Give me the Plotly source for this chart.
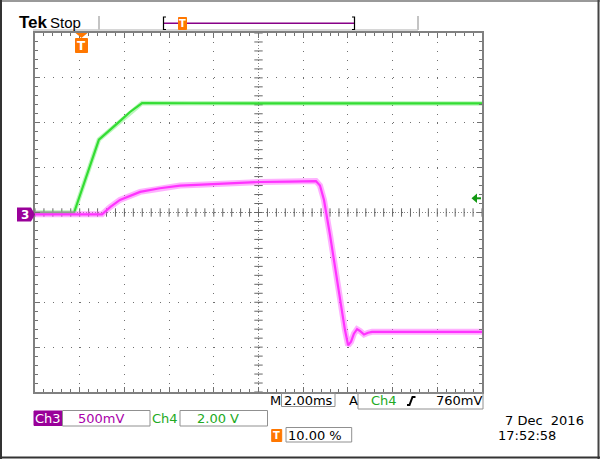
import numpy as np
import plotly.graph_objects as go

# ---------------- data (time in ms, voltage in V) ----------------
ch4_t = [-2.0, -0.25, 0.86, 1.36, 1.80, 2.25, 2.79, 5.0, 10.0, 18.0]
ch4_v = [0.0, 0.0, 3.25, 3.67, 4.07, 4.48, 4.88, 4.87, 4.87, 4.86]

ch3_t = [-2.0, 1.0, 1.36, 1.80, 2.70, 3.59, 4.49, 5.38, 6.73, 8.07, 9.41, 10.57,
         10.75, 10.93, 11.20, 11.47, 11.69, 11.87, 12.01, 12.14, 12.27, 12.41,
         12.54, 12.72, 12.90, 13.08, 18.0]
ch3_v = [-0.02, -0.02, 0.06, 0.14, 0.23, 0.27, 0.30, 0.31, 0.33, 0.34, 0.345, 0.35,
         0.30, 0.14, -0.25, -0.70, -1.03, -1.31, -1.48, -1.44, -1.35, -1.30,
         -1.32, -1.36, -1.34, -1.33, -1.33]

ch3_vdiv = 0.5      # V/div
ch4_vdiv = 2.0      # V/div
t_div = 2.0         # ms/div
trig_pct = 10.0     # trigger position %
n_xdiv, n_ydiv = 10, 8

ch3_label = "Ch3"
ch3_scale_text = "500mV"
ch4_label = "Ch4"
ch4_scale_text = "2.00 V"
timebase_text = "2.00ms"
trig_src_text = "Ch4"
trig_level_text = "760mV"
trig_pos_text = "10.00 %"
date_text = "7 Dec\u00a0 2016"
time_text = "17:52:58"

# ---------------- geometry ----------------
L, T, R, B = 35, 33, 482, 392
W, H = R - L, B - T
def px(x):
    return (x - L) / W
def py(y):
    return (B - y) / H

t0 = -trig_pct / 100 * n_xdiv * t_div
t1 = t0 + n_xdiv * t_div
tc = (t0 + t1) / 2

GREEN = "#33dd33"
PINK = "#ff33ff"
PURPLE = "#990099"
TXTGREEN = "#22aa22"
ORANGE = "#ff7700"
GRID = "#707070"
FONT = "DejaVu Sans"

fig = go.Figure()

# center graticule tick marks
fig.add_trace(go.Scatter(
    x=np.arange(t0, t1 + 1e-9, t_div / 5), y=np.zeros(51), mode="markers",
    marker=dict(symbol="line-ns", size=6, line=dict(width=1, color="#666666")),
    hoverinfo="skip", showlegend=False))
fig.add_trace(go.Scatter(
    x=np.full(41, tc), y=np.arange(-4, 4 + 1e-9, 0.2), mode="markers",
    marker=dict(symbol="line-ew", size=6, line=dict(width=1, color="#666666")),
    hoverinfo="skip", showlegend=False))

# traces
for tt, vv, vdiv, fuzz, fw, col in [
    (ch4_t, ch4_v, ch4_vdiv, "rgba(60,230,60,0.35)", 4.5, GREEN),
    (ch3_t, ch3_v, ch3_vdiv, "rgba(255,80,255,0.45)", 6, PINK),
]:
    yy = np.array(vv) / vdiv
    fig.add_trace(go.Scatter(x=tt, y=yy, mode="lines",
                             line=dict(color=fuzz, width=fw),
                             hoverinfo="skip", showlegend=False))
    fig.add_trace(go.Scatter(x=tt, y=yy, mode="lines",
                             line=dict(color=col, width=2.2),
                             hoverinfo="skip", showlegend=False))

shapes = []
ann = []

def line(x0, y0, x1, y1, color, width=1, dash=None, layer="above"):
    d = dict(type="line", xref="paper", yref="paper",
             x0=px(x0), y0=py(y0), x1=px(x1), y1=py(y1),
             line=dict(color=color, width=width), layer=layer)
    if dash:
        d["line"]["dash"] = dash
    shapes.append(d)

def rect(x0, y0, x1, y1, fill=None, lc="#909090", lw=1):
    shapes.append(dict(type="rect", xref="paper", yref="paper",
                       x0=px(x0), y0=py(y0), x1=px(x1), y1=py(y1),
                       fillcolor=fill if fill else "rgba(0,0,0,0)",
                       line=dict(color=lc, width=lw), layer="above"))

def path(pts, fill=None, lc=None, lw=1, close=True):
    s = "M " + " L ".join(f"{px(x):.5f},{py(y):.5f}" for x, y in pts)
    if close:
        s += " Z"
    shapes.append(dict(type="path", xref="paper", yref="paper", path=s,
                       fillcolor=fill if fill else "rgba(0,0,0,0)",
                       line=dict(color=lc if lc else "rgba(0,0,0,0)", width=lw),
                       layer="above"))

def text(x, y, s, color="black", size=13, xanchor="center", bold=False,
         family=FONT):
    ann.append(dict(xref="paper", yref="paper", x=px(x), y=py(y),
                    text=f"<b>{s}</b>" if bold else s, showarrow=False,
                    xanchor=xanchor, yanchor="middle",
                    font=dict(color=color, size=size, family=family)))

# center lines (denser dots)
line(L, (T + B) / 2, R, (T + B) / 2, "#888888", 1, "1px,2px", "below")
line((L + R) / 2, T, (L + R) / 2, B, "#888888", 1, "1px,2px", "below")

# outer picture border
line(0, 1, 600, 1, "#999999", 2)
line(1, 0, 1, 459, "#333333", 2)
line(598.5, 0, 598.5, 459, "#444444", 2)
line(0, 457.5, 600, 457.5, "#333333", 2)

# ---------------- top bar ----------------
text(16.5, 23, "Tek", size=17, xanchor="left", bold=True, family="Liberation Sans")
text(47.5, 23, "Stop", size=15, xanchor="left", family="Liberation Sans")
line(99, 16, 99, 30, "#b0b0b0", 1.5)
line(418, 16, 418, 30, "#b0b0b0", 1.5)
line(33, 30, 418, 30, "#c8c8c8", 1.5)
# record bracket
line(164, 23.3, 354, 23.3, "#880088", 1.5)
path([(166, 17), (163.5, 17), (163.5, 29.5), (166, 29.5)], lc="black", lw=1.2, close=False)
path([(352, 17), (354.5, 17), (354.5, 29.5), (352, 29.5)], lc="black", lw=1.2, close=False)
rect(178.5, 17.5, 186.5, 29.5, fill=ORANGE, lc=ORANGE)
text(182.5, 23.8, "T", color="white", size=10, bold=True)

# trigger position marker in graticule
path([(75.5, 33), (87.5, 33), (81.5, 38)], fill=ORANGE)
rect(75.5, 38.5, 87.5, 52.5, fill=ORANGE, lc=ORANGE)
text(81.5, 45.7, "T", color="white", size=12, bold=True)

# ch3 ground marker
path([(17, 207.5), (31, 207.5), (35, 214.5), (31, 221.5), (17, 221.5)], fill=PURPLE)
text(24.5, 214.5, "3", color="white", size=12, bold=True)

# trigger level arrow (right)
path([(471.5, 198.3), (477, 193.5), (477, 203)], fill="#119911")
line(476, 198.3, 481, 198.3, "#119911", 2)

# ---------------- bottom readouts ----------------
text(275, 400, "M", size=13)
rect(281.5, 393, 335, 406.5)
text(308.5, 400, timebase_text, size=13)
text(353, 400, "A", size=13)
rect(358, 393, 483, 409)
text(383.5, 400.5, trig_src_text, color=TXTGREEN, size=13)
path([(407, 405), (409.5, 405), (412.5, 397), (415.5, 397)], lc="black", lw=2, close=False)
text(458.5, 400.5, trig_level_text, size=13)

rect(34, 411, 62, 425.5, fill=PURPLE, lc=PURPLE)
text(48, 418.3, ch3_label, color="white", size=13)
rect(62.5, 410.5, 150, 426)
text(101, 418.3, ch3_scale_text, color="#aa00aa", size=13)
text(165, 418.3, ch4_label, color=TXTGREEN, size=13)
rect(180, 410.5, 267.5, 426)
text(218, 418.3, ch4_scale_text, color=TXTGREEN, size=13)

rect(271.7, 429.5, 281.7, 441.5, fill=ORANGE, lc=ORANGE)
text(276.7, 435.6, "T", color="white", size=10, bold=True)
rect(286, 427.5, 351.7, 442)
text(315, 435, trig_pos_text, size=13)

text(544.5, 420.5, date_text, size=13)
text(526.5, 435.5, time_text, size=13)

# ---------------- axes ----------------
axis_common = dict(showline=True, linecolor="#808080", linewidth=2, mirror="ticks",
                   ticks="inside", ticklen=5, tickcolor="#707070", tickwidth=1,
                   showticklabels=False, zeroline=False, showgrid=True,
                   gridcolor=GRID, gridwidth=1, fixedrange=True)
fig.update_layout(
    width=600, height=459,
    margin=dict(l=L, r=600 - R, t=T, b=459 - B),
    paper_bgcolor="white", plot_bgcolor="white",
    showlegend=False,
    xaxis=dict(range=[t0, t1], dtick=t_div, tick0=t0, griddash="1px,7.975px",
               minor=dict(dtick=t_div / 5, tick0=t0, ticklen=3, ticks="inside",
                          tickcolor="#707070", showgrid=False),
               **axis_common),
    yaxis=dict(range=[-n_ydiv / 2, n_ydiv / 2], dtick=1, tick0=0, griddash="1px,7.94px",
               minor=dict(dtick=0.2, tick0=0, ticklen=3, ticks="inside",
                          tickcolor="#707070", showgrid=False),
               **axis_common),
    shapes=shapes, annotations=ann,
)

fig.write_html("out.html", config={"displayModeBar": False},
               post_script="document.body.style.margin='0';")
